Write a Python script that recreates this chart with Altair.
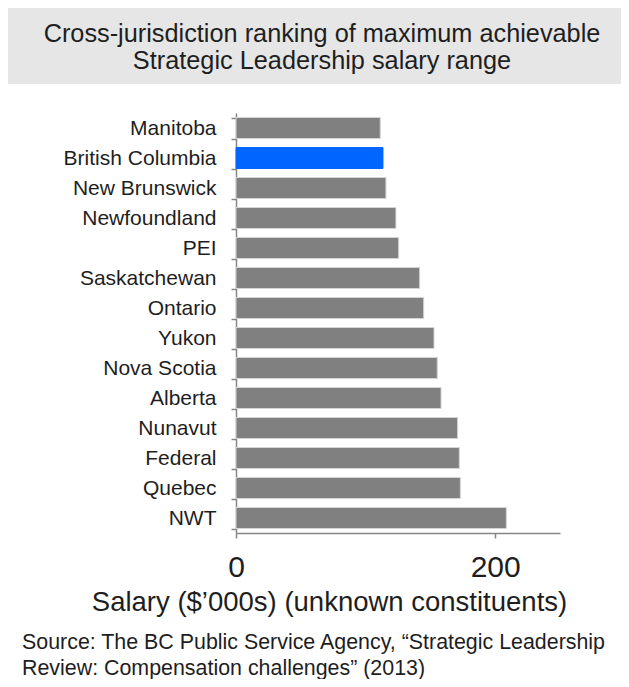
import altair as alt
import pandas as pd

# ---- data ----
provinces = ["Manitoba", "British Columbia", "New Brunswick", "Newfoundland", "PEI",
             "Saskatchewan", "Ontario", "Yukon", "Nova Scotia", "Alberta",
             "Nunavut", "Federal", "Quebec", "NWT"]
salaries = [111.3, 113.4, 115.7, 123.4, 125.5, 141.7, 144.8, 152.8, 155.3, 158.2,
            171.0, 172.3, 173.1, 208.6]
highlighted = "British Columbia"
x_ticks = [0, 200]
x_domain = [0, 250]
title_lines = ["Cross-jurisdiction ranking of maximum achievable",
               "Strategic Leadership salary range"]
axis_title = "Salary ($\u2019000s) (unknown constituents)"
source_lines = ["Source: The BC Public Service Agency, \u201cStrategic Leadership",
                "Review: Compensation challenges\u201d (2013)"]

FONT = "Liberation Sans"
TEXT = "#1e1e1e"
AXIS = "#868686"
W = 613

df = pd.DataFrame({
    "province": provinces,
    "salary": salaries,
    "group": ["BC" if p == highlighted else "other" for p in provinces],
})

title_df = pd.DataFrame({"t": ["\n".join(title_lines)]})

title_chart = alt.Chart(title_df).mark_text(
    font=FONT, fontSize=25.3, lineBreak="\n", lineHeight=27, color=TEXT,
    align="center", baseline="middle"
).encode(
    text="t:N", x=alt.value(314), y=alt.value(26)
).properties(
    width=W, height=76,
    view=alt.ViewBackground(fill="#E6E6E6", strokeWidth=0)
)

main = alt.Chart(df).mark_bar(strokeWidth=1).encode(
    y=alt.Y("province:N", sort=provinces,
            scale=alt.Scale(paddingInner=0.3, paddingOuter=0.15),
            axis=alt.Axis(title=None, offset=-228, tickBand="extent", tickSize=5,
                          labelPadding=15, labelFontSize=21, labelFont=FONT,
                          labelColor=TEXT, domainColor=AXIS, tickColor=AXIS,
                          domainWidth=1.5, tickWidth=1.5)),
    x=alt.X("salary:Q",
            scale=alt.Scale(domain=x_domain, range=[228, 552]),
            axis=alt.Axis(values=x_ticks, title=axis_title, titleX=321, titlePadding=6,
                          titleFontSize=27.5, titleFontWeight="normal", titleFont=FONT,
                          titleColor=TEXT, labelFontSize=30, labelFont=FONT,
                          labelColor=TEXT, labelPadding=14, labelFlush=False,
                          tickSize=5, grid=False, domainColor=AXIS, tickColor=AXIS,
                          domainWidth=1.5, tickWidth=1.5)),
    color=alt.Color("group:N", scale=alt.Scale(domain=["other", "BC"],
                                               range=["#808080", "#0066FF"]), legend=None),
    stroke=alt.Stroke("group:N", scale=alt.Scale(domain=["other", "BC"],
                                                 range=["#D4D4D4", "#0066FF"]), legend=None),
).properties(
    width=W, height=420,
    title=alt.TitleParams(text=source_lines, orient="bottom", anchor="start",
                          frame="group", dx=14, offset=16, fontSize=21.4, font=FONT,
                          fontWeight="normal", color=TEXT, lineHeight=26)
)

chart = alt.vconcat(title_chart, main, spacing=18).properties(
    padding=0
).configure_view(strokeWidth=0)

chart.save("out.html", embed_options={"renderer": "svg", "actions": False})
